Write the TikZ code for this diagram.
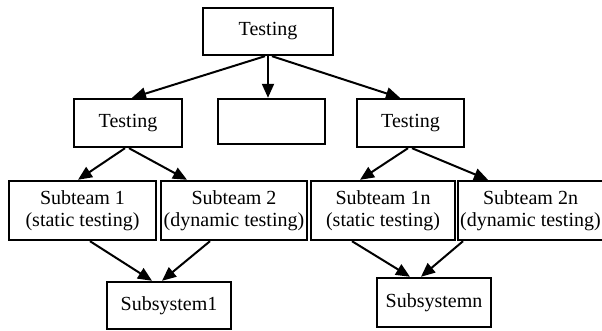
\documentclass[tikz,border=0pt]{standalone}
\usepackage{fontspec}
\setmainfont{Liberation Serif}
\usetikzlibrary{arrows.meta}

\tikzset{
    box/.style={draw,rectangle,line width=1.2pt,align=center,inner sep=1pt,
        font=\fontsize{10}{11}\selectfont},
    arr/.style={line width=1pt,-{Triangle[length=7pt,width=6pt]}}
}

\begin{document}
\begin{tikzpicture}[x=0.5pt,y=-0.5pt]
        \useasboundingbox (0,0) rectangle (602,331);

        \coordinate (c1) at (268,31.5);
        \coordinate (c2) at (128,123);
        \coordinate (c3) at (271.5,121.5);
        \coordinate (c4) at (410.5,123);
        \coordinate (c5) at (82.5,210.5);
        \coordinate (c6) at (234,210.5);
        \coordinate (c7) at (383,210.5);
        \coordinate (c8) at (530.5,210.5);
        \coordinate (c9) at (169,305.5);
        \coordinate (c10) at (434,302.5);

        \node[box,minimum width=65pt,minimum height=23.5pt] (Top) at (c1){Testing};
        \node[box,minimum width=54pt,minimum height=24pt] (TestL) at (c2){Testing};
        \node[box,minimum width=53.5pt,minimum height=22.5pt] (Mid) at (c3){};
        \node[box,minimum width=53.5pt,minimum height=24pt] (TestR) at (c4){Testing};
        \node[box,minimum width=73.5pt,minimum height=29.5pt] (Team1) at (c5){Subteam 1\\(static testing)};
        \node[box,minimum width=73pt,minimum height=29.5pt] (Team2) at (c6){Subteam 2\\(dynamic testing)};
        \node[box,minimum width=72pt,minimum height=29.5pt] (Team1n) at (c7){Subteam 1n\\(static testing)};
        \node[box,minimum width=70.5pt,minimum height=29.5pt] (Team2n) at (c8){Subteam 2n\\(dynamic testing)};
        \node[box,minimum width=62pt,minimum height=23.5pt] (Sys1) at (c9){Subsystem1};
        \node[box,minimum width=57pt,minimum height=24.5pt] (Sysn) at (c10){Subsystemn};

        \draw[arr] ([xshift=-1.5pt]Top.south) -- ([xshift=2pt]TestL.north);
        \draw[arr] (Top.south) -- (Top.south |- Mid.north);
        \draw[arr] ([xshift=2pt]Top.south) -- ([xshift=-5.25pt]TestR.north);
        \draw[arr] ([xshift=-1.5pt]TestL.south) -- ([xshift=-2.25pt]Team1.north);
        \draw[arr] ([xshift=0.5pt]TestL.south) -- ([xshift=-23.5pt]Team2.north);
        \draw[arr] ([xshift=-1.25pt]TestR.south) -- ([xshift=-11.5pt]Team1n.north);
        \draw[arr] ([xshift=0.75pt]TestR.south) -- ([xshift=-21.25pt]Team2n.north);
        \draw[arr] ([xshift=3.75pt]Team1.south) -- ([xshift=-8.5pt]Sys1.north);
        \draw[arr] ([xshift=-12pt]Team2.south) -- ([xshift=-3.5pt]Sys1.north);
        \draw[arr] ([xshift=-15.5pt]Team1n.south) -- ([xshift=-12pt]Sysn.north);
        \draw[arr] ([xshift=-33.75pt]Team2n.south) -- ([xshift=-6.5pt]Sysn.north);
\end{tikzpicture}
\end{document}
